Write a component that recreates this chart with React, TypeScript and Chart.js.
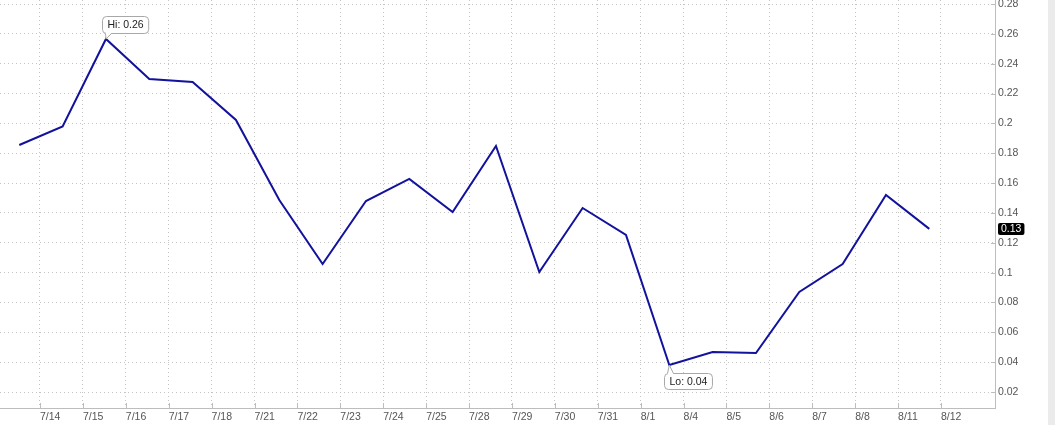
import React, { useEffect, useRef } from 'react';
import { Chart, registerables } from 'chart.js';

Chart.register(...registerables);

const dates = ['7/14', '7/15', '7/16', '7/17', '7/18', '7/21', '7/22', '7/23', '7/24', '7/25', '7/28', '7/29', '7/30', '7/31', '8/1', '8/4', '8/5', '8/6', '8/7', '8/8', '8/11', '8/12'];
const values = [0.1855, 0.198, 0.2566, 0.2298, 0.2278, 0.2023, 0.1487, 0.1058, 0.148, 0.1628, 0.1406, 0.1849, 0.1004, 0.1433, 0.1252, 0.0381, 0.0468, 0.0461, 0.087, 0.1058, 0.152, 0.1293];
const yTicks = [0.02, 0.04, 0.06, 0.08, 0.1, 0.12, 0.14, 0.16, 0.18, 0.2, 0.22, 0.24, 0.26, 0.28];

const FONT = "'Liberation Sans', Arial, sans-serif";
const LINE = '#12129c';
const GRID = '#c4c4c4';
const AXIS = '#bdbdbd';
const TEXT = '#555555';

function rr(ctx: CanvasRenderingContext2D, x: number, y: number, w: number, h: number, r: number) {
  ctx.moveTo(x + r, y);
  ctx.lineTo(x + w - r, y);
  ctx.arcTo(x + w, y, x + w, y + r, r);
  ctx.lineTo(x + w, y + h - r);
  ctx.arcTo(x + w, y + h, x + w - r, y + h, r);
  ctx.lineTo(x + r, y + h);
  ctx.arcTo(x, y + h, x, y + h - r, r);
  ctx.lineTo(x, y + r);
  ctx.arcTo(x, y, x + r, y, r);
  ctx.closePath();
}

export default function App() {
  const ref = useRef<HTMLCanvasElement>(null);

  useEffect(() => {
    const annot = {
      id: 'annot',
      afterDatasetsDraw(chart: any) {
        const ctx: CanvasRenderingContext2D = chart.ctx;
        const xs = chart.scales.x;
        const ys = chart.scales.y;
        const x2 = chart.scales.x2;
        const area = chart.chartArea;
        // inner tick marks
        ctx.save();
        ctx.strokeStyle = AXIS;
        ctx.lineWidth = 1;
        ctx.beginPath();
        for (let i = 0; i < dates.length; i++) {
          const px = Math.round(x2.getPixelForValue(i)) + 0.5;
          ctx.moveTo(px, area.bottom - 5);
          ctx.lineTo(px, area.bottom);
        }
        for (const t of yTicks) {
          const py = Math.round(ys.getPixelForValue(t)) + 0.5;
          ctx.moveTo(area.right - 4, py);
          ctx.lineTo(area.right, py);
        }
        ctx.stroke();
        ctx.restore();

        ctx.save();
        ctx.font = `10.5px ${FONT}`;
        ctx.textBaseline = 'middle';
        // Hi
        let hiI = 0, loI = 0;
        values.forEach((v, i) => {
          if (v > values[hiI]) hiI = i;
          if (v < values[loI]) loI = i;
        });
        const hx = xs.getPixelForValue(hiI);
        const hy = ys.getPixelForValue(values[hiI]);
        const hiText = 'Hi: ' + values[hiI].toFixed(2);
        const hw = ctx.measureText(hiText).width + 10;
        const hbx = Math.round(hx - 4) + 0.5;
        const hby = Math.round(hy - 23) + 0.5;
        const hh = 17;
        ctx.beginPath();
        rr(ctx, hbx, hby, hw, hh, 4);
        ctx.fillStyle = '#ffffff';
        ctx.fill();
        ctx.strokeStyle = '#a8a8a8';
        ctx.lineWidth = 1;
        ctx.stroke();
        ctx.beginPath();
        ctx.moveTo(hbx + 3, hby + hh - 0.5);
        ctx.lineTo(hx, hy);
        ctx.lineTo(hbx + 9, hby + hh - 0.5);
        ctx.fillStyle = '#ffffff';
        ctx.fill();
        ctx.beginPath();
        ctx.moveTo(hbx + 3, hby + hh);
        ctx.lineTo(hx, hy);
        ctx.lineTo(hbx + 9, hby + hh);
        ctx.stroke();
        ctx.fillStyle = '#222222';
        ctx.textAlign = 'left';
        ctx.fillText(hiText, hbx + 5, hby + hh / 2 + 0.5);

        // Lo
        const lx = xs.getPixelForValue(loI);
        const ly = ys.getPixelForValue(values[loI]);
        const loText = 'Lo: ' + values[loI].toFixed(2);
        const lw = ctx.measureText(loText).width + 10;
        const lbx = Math.round(lx - 5) + 0.5;
        const lby = Math.round(ly + 8) + 0.5;
        const lh = 16;
        ctx.beginPath();
        rr(ctx, lbx, lby, lw, lh, 4);
        ctx.fillStyle = '#ffffff';
        ctx.fill();
        ctx.strokeStyle = '#a8a8a8';
        ctx.stroke();
        ctx.beginPath();
        ctx.moveTo(lbx + 3, lby + 0.5);
        ctx.lineTo(lx, ly);
        ctx.lineTo(lbx + 9, lby + 0.5);
        ctx.fillStyle = '#ffffff';
        ctx.fill();
        ctx.beginPath();
        ctx.moveTo(lbx + 3, lby);
        ctx.lineTo(lx, ly);
        ctx.lineTo(lbx + 9, lby);
        ctx.stroke();
        ctx.fillStyle = '#222222';
        ctx.fillText(loText, lbx + 5, lby + lh / 2 + 0.5);
        ctx.restore();
      },
      afterDraw(chart: any) {
        const ctx: CanvasRenderingContext2D = chart.ctx;
        const ys = chart.scales.y;
        const area = chart.chartArea;
        const last = values[values.length - 1];
        const py = ys.getPixelForValue(last);
        ctx.save();
        ctx.font = `10.5px ${FONT}`;
        const txt = last.toFixed(2);
        const w = ctx.measureText(txt).width + 6;
        ctx.beginPath();
        rr(ctx, area.right + 3, Math.round(py - 6), w, 12, 2);
        ctx.fillStyle = '#000000';
        ctx.fill();
        ctx.fillStyle = '#ffffff';
        ctx.textBaseline = 'middle';
        ctx.textAlign = 'left';
        ctx.fillText(txt, area.right + 6, Math.round(py) + 0.5);
        // right grey strip
        ctx.fillStyle = '#ebebeb';
        ctx.fillRect(1048, 0, 7, chart.height);
        ctx.restore();
      },
    };

    const chart = new Chart(ref.current as HTMLCanvasElement, {
      type: 'line',
      data: {
        datasets: [
          {
            data: values.map((v, i) => ({ x: i, y: v })),
            borderColor: LINE,
            borderWidth: 2,
            pointRadius: 0,
            tension: 0,
            fill: false,
            xAxisID: 'x',
            yAxisID: 'y',
          },
        ],
      },
      options: {
        animation: false,
        responsive: false,
        events: [],
        layout: { padding: 0 },
        plugins: { legend: { display: false }, tooltip: { enabled: false } },
        scales: {
          x: {
            type: 'linear',
            display: false,
            min: -0.445,
            max: 22.516,
          },
          x2: {
            type: 'linear',
            position: 'bottom',
            min: -0.932,
            max: 22.259,
            afterBuildTicks(scale: any) {
              scale.ticks = dates.map((_, i) => ({ value: i }));
            },
            afterFit(scale: any) {
              scale.height = 17;
              scale.paddingLeft = 0;
              scale.paddingRight = 0;
            },
            ticks: {
              autoSkip: false,
              maxRotation: 0,
              align: 'start',
              padding: 3,
              color: TEXT,
              font: { family: FONT, size: 10.5 },
              callback: (v: any) => dates[Number(v)] ?? '',
            },
            grid: { color: GRID, drawTicks: false, lineWidth: 1 },
            border: { display: true, color: AXIS, dash: [1, 3] },
          },
          y: {
            type: 'linear',
            position: 'right',
            min: 0.00928,
            max: 0.2827,
            afterBuildTicks(scale: any) {
              scale.ticks = yTicks.map((v) => ({ value: v }));
            },
            afterFit(scale: any) {
              scale.width = 60;
              scale.paddingTop = 0;
              scale.paddingBottom = 0;
            },
            ticks: {
              padding: 3,
              color: TEXT,
              font: { family: FONT, size: 10.5 },
              callback: (v: any) => String(Number(Number(v).toFixed(2))),
            },
            grid: { color: GRID, drawTicks: false, lineWidth: 1 },
            border: { display: true, color: AXIS, dash: [1, 3] },
          },
        },
      } as any,
      plugins: [annot],
    });
    return () => chart.destroy();
  }, []);

  return (
    <div style={{ position: 'absolute', left: 0, top: 0, width: 1055, height: 425, background: '#ffffff' }}>
      <canvas ref={ref} width={1055} height={425} style={{ width: 1055, height: 425, display: 'block' }} />
    </div>
  );
}
